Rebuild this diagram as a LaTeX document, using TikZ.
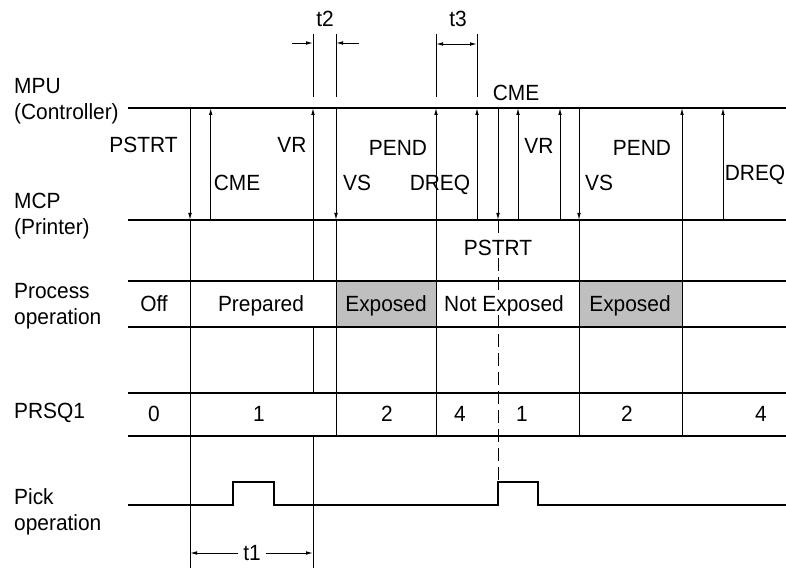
\documentclass[tikz,border=0pt]{standalone}
\usepackage{fontspec}
\setmainfont{Liberation Sans}[FakeStretch=0.95]
\usetikzlibrary{arrows.meta}
\begin{document}
\begin{tikzpicture}[x=1pt,y=-1pt,
  lbl/.style={inner sep=0.5pt, font=\fontsize{22}{27}\selectfont, text height=15.7pt, text depth=0pt},
  side/.style={inner sep=0pt, font=\fontsize{22}{26.5}\selectfont, align=left, anchor=west},
  hline/.style={line width=1.6pt},
  vline/.style={line width=0.9pt},
  sig/.style={line width=0.9pt, -{Latex[length=7pt,width=3.6pt]}},
  dim/.style={line width=0.9pt, -{Latex[length=7pt,width=3.6pt]}},
  dimboth/.style={line width=0.9pt, {Latex[length=7pt,width=3.6pt]}-{Latex[length=7pt,width=3.6pt]}},
  shade/.style={fill=black!25}]
\useasboundingbox (0,0) rectangle (786,569);

% shaded boxes
\fill[shade] (336,281) rectangle (436,327);
\fill[shade] (579,281) rectangle (682,327);

% side labels
\node[side] (mpu) at (14,101) {MPU\\(Controller)};
\node[side] (mcp) at (14,216) {MCP\\(Printer)};
\node[side] (proc) at (14,306) {Process\\operation};
\node[side] (prsq) at (14,413) {PRSQ1};
\node[side] (pick) at (14,512) {Pick\\operation};

% extension lines above MPU
\foreach \xx in {313,336,436,477} \draw[vline] (\xx,34) -- (\xx,97);
\draw[dim] (292,43) -- (313,43);
\draw[dim] (359,43) -- (336,43);
\draw[dimboth] (436,44) -- (477,44);
\node[lbl] (t2) at (325,19) {t2};
\node[lbl] (t3) at (458,19) {t3};

% signal arrows between MPU and MCP
\foreach \xx in {190,336,498,579} \draw[sig] (\xx,108) -- (\xx,220);
\foreach \xx in {210.7,313,436,477,518,560,682,723} \draw[sig] (\xx,220) -- (\xx,108);

% vertical lines below MCP
\draw[vline] (190,220) -- (190,568);
\draw[vline] (313,220) -- (313,281);
\draw[vline] (313,327) -- (313,393);
\draw[vline] (313,436) -- (313,568);
\foreach \xx in {336,436,579,682} \draw[vline] (\xx,220) -- (\xx,436);
\draw[vline, dash pattern=on 13pt off 6pt] (498,220) -- (498,482);

% horizontal lines
\foreach \yy in {108,220,281,327,393,436} \draw[hline] (128,\yy) -- (786,\yy);

% pick waveform
\draw[hline] (128,505) -- (233,505) -- (233,482) -- (274,482) -- (274,505)
  -- (498,505) -- (498,482) -- (538,482) -- (538,505) -- (786,505);

% signal labels
\node[lbl] (pstrt1) at (143.5,145) {PSTRT};
\node[lbl] (cme1) at (237,183) {CME};
\node[lbl] (vr1) at (292,145) {VR};
\node[lbl] (vs1) at (357,183) {VS};
\node[lbl] (pend1) at (398,148) {PEND};
\node[lbl] (dreq1) at (440,183) {DREQ};
\node[lbl] (cme2) at (516,93) {CME};
\node[lbl] (vr2) at (539,146) {VR};
\node[lbl] (vs2) at (599,183) {VS};
\node[lbl] (pend2) at (642,148) {PEND};
\node[lbl] (dreq2) at (755,173) {DREQ};
\node[lbl, fill=white, inner sep=2pt] (pstrt2) at (498,248) {PSTRT};

% process row
\node[lbl] (off) at (154,304) {Off};
\node[lbl] (prep) at (261,304) {Prepared};
\node[lbl] (exp1) at (386,304) {Exposed};
\node[lbl, fill=white, inner sep=2pt] (nexp) at (504,304) {Not Exposed};
\node[lbl] (exp2) at (630,304) {Exposed};

% PRSQ1 row
\node[lbl] (q0) at (154,414) {0};
\node[lbl] (q1) at (259,414) {1};
\node[lbl] (q2) at (387,414) {2};
\node[lbl] (q4) at (460,414) {4};
\node[lbl] (q1b) at (522,414) {1};
\node[lbl] (q2b) at (627,414) {2};
\node[lbl] (q4b) at (761,414) {4};

% t1
\node[lbl, inner sep=5pt] (t1) at (252,553) {t1};
\coordinate (t1l) at (190,553);
\coordinate (t1r) at (313,553);
\draw[dim] (t1.west) -- (t1l);
\draw[dim] (t1.east) -- (t1r);
\end{tikzpicture}
\end{document}
